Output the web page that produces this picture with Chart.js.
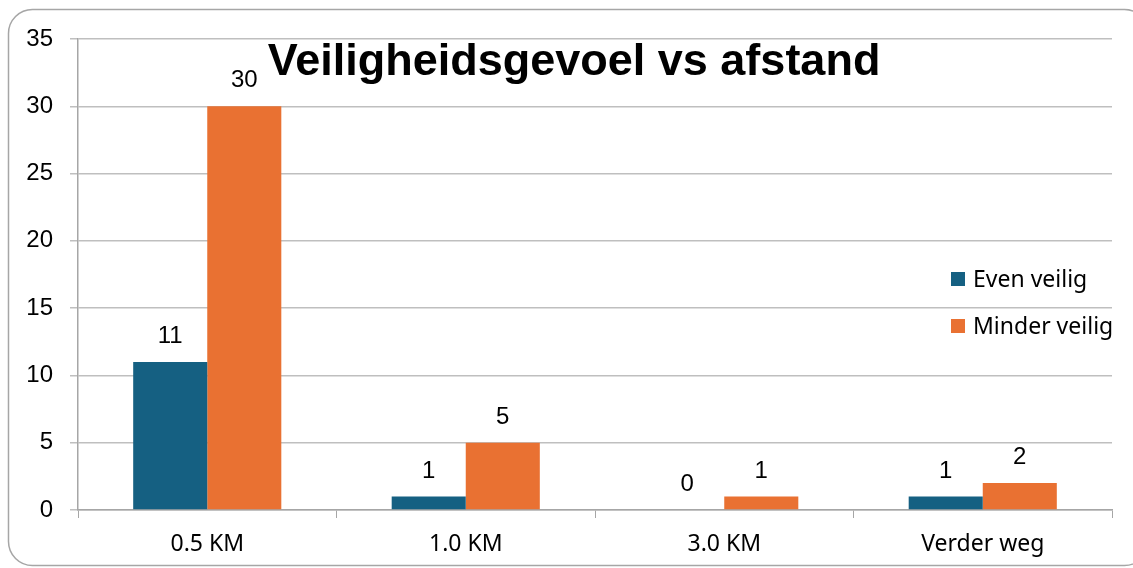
<!DOCTYPE html>
<html>
<head>
<meta charset="utf-8">
<script src="https://cdn.jsdelivr.net/npm/chart.js@4"></script>
<style>
    html, body { margin: 0; padding: 0; background: #ffffff; }
    #wrap { width: 1133px; height: 568px; position: relative; }
</style>
</head>
<body>
<div id="wrap"><canvas id="afstandChart" width="1133" height="568"></canvas></div>
<script>
// grafiekdata
const categories = ['0.5 KM', '1.0 KM', '3.0 KM', 'Verder weg'];
const evenVeilig = [11, 1, 0, 1];
const minderVeilig = [30, 5, 1, 2];
const seriesNames = ['Even veilig', 'Minder veilig'];
const yTicks = [0, 5, 10, 15, 20, 25, 30, 35];
const chartTitle = 'Veiligheidsgevoel vs afstand';

const colors = ['#156082', '#E97132'];

// rand rond de grafiek
const framePlugin = {
    id: 'frame',
    beforeDraw(chart) {
        const ctx = chart.ctx;
        ctx.save();
        ctx.fillStyle = '#ffffff';
        ctx.fillRect(0, 0, chart.width, chart.height);
        ctx.strokeStyle = '#a6a6a6';
        ctx.lineWidth = 1.5;
        ctx.beginPath();
        ctx.roundRect(8.5, 9.5, 1140, 556, 24);
        ctx.stroke();
        ctx.restore();
    }
};

// waardelabels boven de staven
const valueLabels = {
    id: 'valueLabels',
    afterDatasetsDraw(chart) {
        const ctx = chart.ctx;
        ctx.save();
        ctx.font = '24px "Liberation Sans", Arial, sans-serif';
        ctx.fillStyle = '#000000';
        ctx.textAlign = 'center';
        ctx.textBaseline = 'alphabetic';
        chart.data.datasets.forEach((ds, i) => {
            chart.getDatasetMeta(i).data.forEach((bar, j) => {
                ctx.fillText(String(ds.data[j]), bar.x, bar.y - 19);
            });
        });
        ctx.restore();
    }
};

// titel en legenda over het plotgebied
const overlayPlugin = {
    id: 'overlay',
    afterDraw(chart) {
        const ctx = chart.ctx;
        ctx.save();
        ctx.fillStyle = '#000000';
        ctx.font = 'bold 45px "Liberation Sans", Arial, sans-serif';
        ctx.textAlign = 'center';
        ctx.textBaseline = 'alphabetic';
        ctx.fillText(chartTitle, 574, 75);

        ctx.font = '23px "Noto Sans", sans-serif';
        ctx.textAlign = 'left';
        const rows = [287, 334];
        seriesNames.forEach((name, i) => {
            ctx.fillStyle = colors[i];
            ctx.fillRect(951, rows[i] - 15, 14, 14);
            ctx.fillStyle = '#000000';
            ctx.fillText(name, 973, rows[i]);
        });
        ctx.restore();
    }
};

const ctx = document.getElementById('afstandChart');
new Chart(ctx, {
    type: 'bar',
    data: {
        labels: categories,
        datasets: [
            { label: seriesNames[0], data: evenVeilig, backgroundColor: colors[0] },
            { label: seriesNames[1], data: minderVeilig, backgroundColor: colors[1] }
        ]
    },
    options: {
        responsive: false,
        animation: false,
        layout: { padding: { top: 39, right: 21, left: 0, bottom: 0 } },
        categoryPercentage: 0.573,
        barPercentage: 1,
        plugins: {
            legend: { display: false },
            title: { display: false },
            tooltip: { enabled: false }
        },
        scales: {
            x: {
                afterFit: s => { s.height = 58; },
                grid: {
                    offset: true,
                    drawOnChartArea: false,
                    drawTicks: true,
                    tickLength: 8,
                    color: '#a6a6a6'
                },
                border: { color: '#a6a6a6', width: 1.5 },
                ticks: {
                    padding: 13,
                    color: '#000000',
                    font: { size: 23, family: '"Noto Sans", sans-serif' }
                }
            },
            y: {
                min: 0,
                max: 35,
                afterFit: s => { s.width = 78; },
                afterBuildTicks: s => { s.ticks = yTicks.map(v => ({ value: v })); },
                grid: {
                    color: '#bfbfbf',
                    lineWidth: 1.5,
                    tickLength: 8
                },
                border: { color: '#a6a6a6', width: 1.5 },
                ticks: {
                    padding: 17,
                    color: '#000000',
                    font: { size: 24, family: '"Liberation Sans", Arial, sans-serif' }
                }
            }
        }
    },
    plugins: [framePlugin, valueLabels, overlayPlugin]
});
</script>
</body>
</html>
